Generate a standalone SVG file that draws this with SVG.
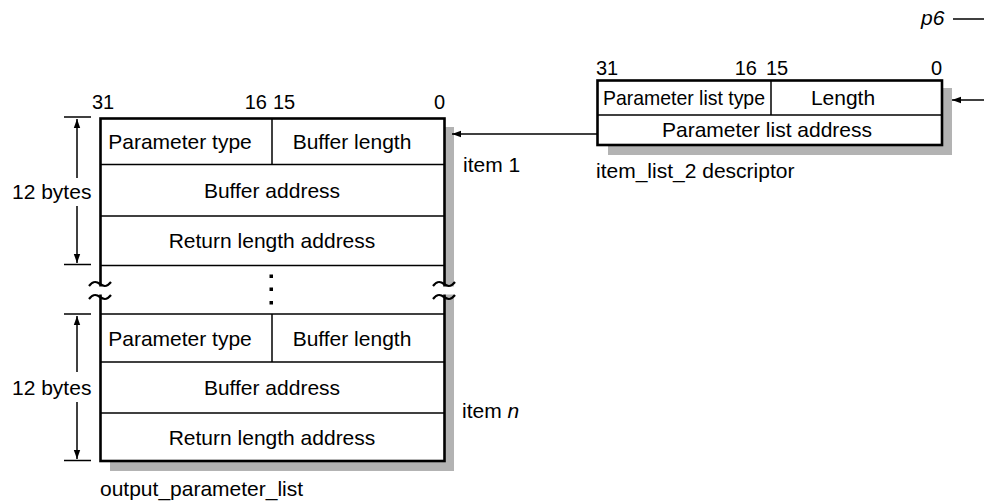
<svg xmlns="http://www.w3.org/2000/svg" width="984" height="501" viewBox="0 0 984 501">
<defs>
<style>
text{font-family:"Liberation Sans",Arial,Helvetica,sans-serif;font-size:21px;fill:#000}
.c{text-anchor:middle}
.e{text-anchor:end}
.bits{font-size:20px}
.box{fill:#fff;stroke:#000;stroke-width:2.6}
.ln{stroke:#000;stroke-width:1.5;fill:none}
.shadow{fill:#b3b3b3}
.til{fill:none;stroke:#000;stroke-width:2.2}
</style>
<marker id="ah" markerUnits="userSpaceOnUse" markerWidth="10" markerHeight="8" refX="9" refY="4" orient="auto">
<path d="M0,0.8 L9,4 L0,7.2 z" fill="#000"/>
</marker>
</defs>
<rect width="984" height="501" fill="#fff"/>

<g id="output_parameter_list">
<rect class="shadow" x="110" y="127" width="344" height="344"/>
<rect class="box" x="100.5" y="118.5" width="344" height="342.5"/>
<line class="ln" x1="100" y1="164.5" x2="445" y2="164.5"/>
<line class="ln" x1="100" y1="216" x2="445" y2="216"/>
<line class="ln" x1="100" y1="265.5" x2="445" y2="265.5"/>
<line class="ln" x1="100" y1="314" x2="445" y2="314"/>
<line class="ln" x1="100" y1="362" x2="445" y2="362"/>
<line class="ln" x1="100" y1="413" x2="445" y2="413"/>
<line class="ln" x1="272" y1="118" x2="272" y2="164.5"/>
<line class="ln" x1="272" y1="314" x2="272" y2="362"/>
<text class="c" x="180" y="149">Parameter type</text>
<text class="c" x="352" y="149">Buffer length</text>
<text class="c" x="272" y="197.5">Buffer address</text>
<text class="c" x="272" y="248">Return length address</text>
<text class="c" x="180" y="346">Parameter type</text>
<text class="c" x="352" y="346">Buffer length</text>
<text class="c" x="272" y="395">Buffer address</text>
<text class="c" x="272" y="444.5">Return length address</text>
<rect x="269.5" y="274.5" width="3.5" height="3.5"/>
<rect x="269.5" y="287.5" width="3.5" height="3.5"/>
<rect x="269.5" y="301" width="3.5" height="3.5"/>
<rect x="90" y="286.5" width="22" height="8" fill="#fff"/>
<rect x="432" y="286.5" width="25" height="8" fill="#fff"/>
<path class="til" d="M89,286 c4,-5 7,-5 11,-2 s7,3 11,-2"/>
<path class="til" d="M89,299 c4,-5 7,-5 11,-2 s7,3 11,-2"/>
<path class="til" d="M433,286 c4,-5 7,-5 11,-2 s7,3 11,-2"/>
<path class="til" d="M433,299 c4,-5 7,-5 11,-2 s7,3 11,-2"/>
<text class="bits" x="92" y="109">31</text>
<text class="bits e" x="267" y="109">16</text>
<text class="bits" x="273" y="109">15</text>
<text class="bits e" x="445" y="109">0</text>
<text x="100" y="496">output_parameter_list</text>
<text x="463" y="172">item 1</text>
<text x="462" y="418">item <tspan font-style="italic">n</tspan></text>
</g>

<g id="item_list_2_descriptor">
<rect class="shadow" x="608" y="88" width="344" height="67"/>
<rect class="box" x="597.5" y="80.5" width="344.5" height="64.5"/>
<line class="ln" x1="597" y1="115" x2="942" y2="115"/>
<line class="ln" x1="771" y1="80" x2="771" y2="115"/>
<text x="603" y="105" textLength="162" lengthAdjust="spacingAndGlyphs">Parameter list type</text>
<text class="c" x="843" y="105">Length</text>
<text class="c" x="767" y="137">Parameter list address</text>
<text class="bits" x="596" y="75">31</text>
<text class="bits e" x="757" y="75">16</text>
<text class="bits" x="766" y="75">15</text>
<text class="bits e" x="942" y="75">0</text>
<text x="596" y="178">item_list_2 descriptor</text>
</g>

<g id="p6">
<text x="921" y="25" font-style="italic">p6</text>
</g>

<g id="dimensions">
<line class="ln" x1="64" y1="117" x2="91" y2="117"/>
<line class="ln" x1="64" y1="264.5" x2="91" y2="264.5"/>
<line class="ln" x1="77" y1="178" x2="77" y2="119" marker-end="url(#ah)"/>
<line class="ln" x1="77" y1="206" x2="77" y2="263" marker-end="url(#ah)"/>
<text x="12" y="198.5">12 bytes</text>
<line class="ln" x1="64" y1="314" x2="91" y2="314"/>
<line class="ln" x1="64" y1="460.5" x2="91" y2="460.5"/>
<line class="ln" x1="77" y1="372" x2="77" y2="316" marker-end="url(#ah)"/>
<line class="ln" x1="77" y1="402" x2="77" y2="459" marker-end="url(#ah)"/>
<text x="12" y="394.5">12 bytes</text>
</g>

<g id="connectors">
<line class="ln" x1="598" y1="134" x2="452" y2="134" marker-end="url(#ah)"/>
<line class="ln" x1="984" y1="100" x2="952" y2="100" marker-end="url(#ah)"/>
<line class="ln" x1="953" y1="19" x2="984" y2="19"/>
</g>
</svg>
